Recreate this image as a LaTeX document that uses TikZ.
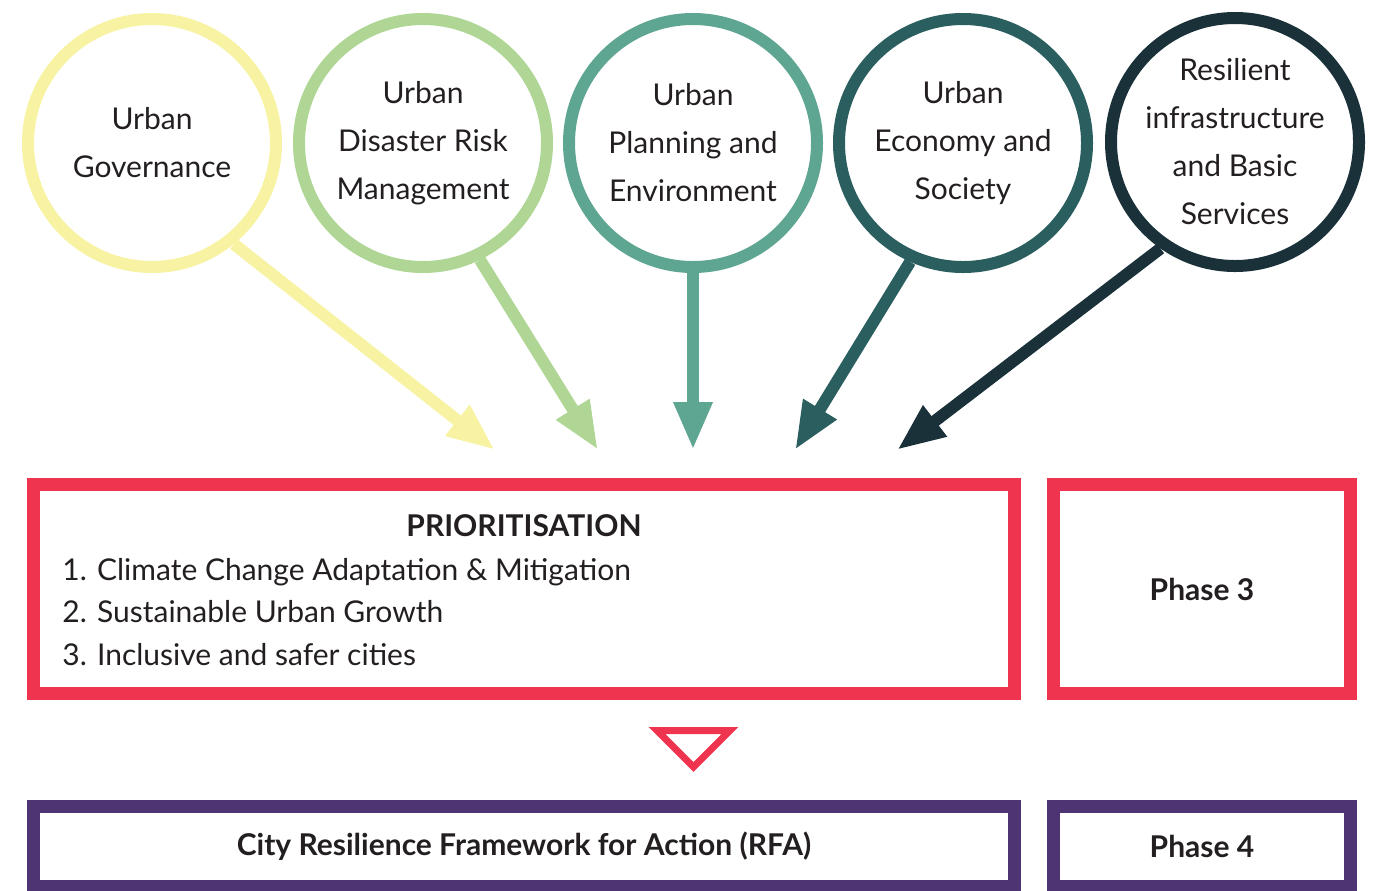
\documentclass[tikz,border=0pt]{standalone}
\usepackage{fontspec}
\setmainfont{Lato}
\usetikzlibrary{arrows.meta}
\definecolor{govyellow}{HTML}{F7F3A3}
\definecolor{drmgreen}{HTML}{AFD695}
\definecolor{plangreen}{HTML}{5EA692}
\definecolor{econteal}{HTML}{2B5E5F}
\definecolor{infranavy}{HTML}{1B313A}
\definecolor{prioRed}{HTML}{EE344E}
\definecolor{rfaPurple}{HTML}{4F3474}
\definecolor{txtgray}{HTML}{231F20}
\begin{document}
\begin{tikzpicture}[x=0.5pt, y=-0.5pt,
    every node/.style={font=\fontsize{15}{24}\selectfont, text=txtgray},
    topic/.style={circle, draw=#1, line width=6pt, minimum size=124pt, inner sep=0pt, align=center},
    feed/.style={draw=#1, line width=6pt, -{Triangle[length=24pt, width=18pt]}},
    frame/.style={draw=#1, line width=6.5pt, minimum width=490.5pt, inner sep=0pt},
    phase/.style={draw=#1, line width=6.5pt, minimum width=148.5pt, inner sep=0pt,
      font=\fontsize{15}{24}\selectfont\bfseries}]
  \useasboundingbox (0,0) rectangle (1380,890);
  % Topics
  \node[topic=govyellow] (gov) at (152,143) {Urban\\Governance};
  \node[topic=drmgreen] (drm) at (423,143) {Urban\\Disaster Risk\\Management};
  \node[topic=plangreen] (plan) at (693,143) {Urban\\Planning and\\Environment};
  \node[topic=econteal] (econ) at (963,143) {Urban\\Economy and\\Society};
  \node[topic=infranavy] (infra) at (1235,142) {Resilient\\infrastructure\\and Basic\\Services};
  % Arrows into prioritisation
  \foreach \n/\x in {1/495, 2/598, 3/693, 4/795, 5/897}
    \coordinate (t\n) at (\x,450);
  \draw[feed=govyellow] (gov.-51) -- (t1);
  \draw[feed=drmgreen] (drm.-64) -- (t2);
  \draw[feed=plangreen] (plan.south) -- (t3);
  \draw[feed=econteal] (econ.-114) -- (t4);
  \draw[feed=infranavy] (infra.-125) -- (t5);
  % Phase 3
  \node[frame=prioRed, minimum height=104.5pt] (prio) at (524,589) {};
  \node[phase=prioRed, minimum height=104.5pt] (ph3) at (1202,589) {Phase 3};
  \node[font=\fontsize{15}{24}\selectfont\bfseries] (title) at (524,526) {PRIORITISATION};
  \foreach \y/\txt [count=\i] in {580/1. Climate Change Adaptation \& Mitigation,
      622/2. Sustainable Urban Growth, 665/3. Inclusive and safer cities}
    \node[anchor=base west, inner sep=0pt] (item\i) at (62,\y) {\txt};
  \draw[prioRed, line width=3.5pt] (657,730.5) -- (730,730.5) -- (693.5,767) -- cycle;
  % Phase 4
  \node[frame=rfaPurple, minimum height=40pt, font=\fontsize{15}{24}\selectfont\bfseries] (rfa) at (524,846.5)
    {City Resilience Framework for Action (RFA)};
  \node[phase=rfaPurple, minimum height=40pt] (ph4) at (1202,846.5) {Phase 4};
\end{tikzpicture}
\end{document}
